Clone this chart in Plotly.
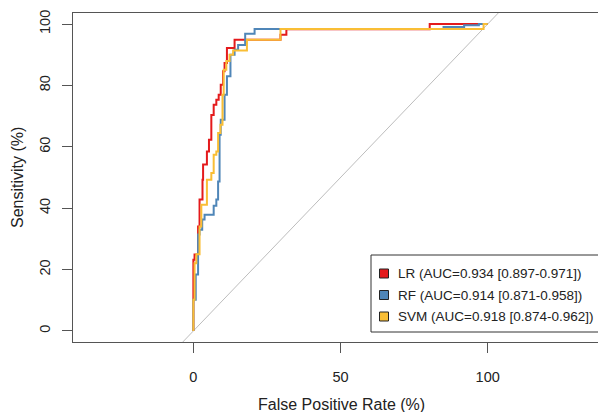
import plotly.graph_objects as go

# ROC curves (False Positive Rate %, Sensitivity %), step vertices
lr_fpr = [0, 0.4, 1.6, 2.1, 3.1, 3.3, 4.6, 5.3, 6.1, 6.9, 7.8, 8.6, 9.3, 10.1, 10.6, 11.4, 14.0, 29.6, 31.6, 80.3, 100]
lr_sens = [0, 23.2, 24.9, 34.0, 42.8, 49.3, 54.2, 58.5, 62.3, 70.4, 73.7, 75.3, 77.0, 80.2, 84.6, 87.3, 92.2, 94.9, 96.5, 98.3, 100]

rf_fpr = [0, 0.8, 1.6, 2.1, 3.0, 3.8, 6.9, 7.8, 8.4, 8.9, 9.3, 10.6, 11.4, 12.6, 14.0, 15.2, 17.6, 20.8, 85.0, 92.0, 97.0, 100]
rf_sens = [0, 10.2, 18.4, 31.4, 33.0, 36.3, 37.9, 40.8, 42.8, 48.7, 63.9, 68.8, 77.0, 83.0, 90.0, 91.6, 93.2, 96.8, 98.4, 99.0, 99.6, 100]

svm_fpr = [0, 0.4, 1.0, 2.1, 2.7, 4.6, 6.1, 6.9, 7.8, 8.4, 9.2, 9.9, 10.3, 11.2, 12.3, 13.5, 18.2, 29.6, 98.6, 100]
svm_sens = [0, 10.2, 22.1, 25.0, 34.0, 41.1, 49.3, 51.5, 57.4, 58.5, 64.5, 67.2, 77.0, 85.1, 88.0, 90.0, 91.4, 94.9, 98.4, 100]

model_names = ["LR", "RF", "SVM"]
auc_labels = ["LR (AUC=0.934 [0.897-0.971])",
              "RF (AUC=0.914 [0.871-0.958])",
              "SVM (AUC=0.918 [0.874-0.962])"]
colors = ["#E41A1C", "#4F86B8", "#F9BE35"]

chance_x = [-50, 150]
chance_y = [-50, 150]

x_ticks = [0, 50, 100]
y_ticks = [0, 20, 40, 60, 80, 100]

FONT = "Liberation Sans, Arial, sans-serif"

# the page body has an 8px default margin; figure is sized to fill the rest of the window
OFF = 8
L, T = 73.0, 13.0          # plot-area left / top in window pixels
W, H = 533.0, 329.0        # plot-area size in pixels
def px(x):
    return (x - L) / W
def py(y):
    return (T + H - y) / H

fig = go.Figure()
fig.add_trace(go.Scatter(x=chance_x, y=chance_y, mode="lines",
                         line=dict(color="#BDBDBD", width=1), showlegend=False, hoverinfo="skip"))

for fx, sy, col, name in zip([lr_fpr, rf_fpr, svm_fpr], [lr_sens, rf_sens, svm_sens], colors, model_names):
    fig.add_trace(go.Scatter(x=fx, y=sy, mode="lines", name=name,
                             line=dict(color=col, width=2, shape="vh"), showlegend=False))

# manual legend (box, colour squares, labels)
fig.add_shape(type="rect", xref="paper", yref="paper",
              x0=px(371), x1=px(603), y0=py(332), y1=py(255),
              line=dict(color="#333333", width=1), fillcolor="white", layer="above")
for i, (lab, col) in enumerate(zip(auc_labels, colors)):
    cy = 273.5 + i * 21.5
    fig.add_shape(type="rect", xref="paper", yref="paper",
                  x0=px(379.5), x1=px(388.5), y0=py(cy + 4.5), y1=py(cy - 4.5),
                  line=dict(color="#222222", width=1), fillcolor=col, layer="above")
    fig.add_annotation(xref="paper", yref="paper", x=px(396), y=py(cy),
                       text=lab, showarrow=False, xanchor="left", yanchor="middle",
                       font=dict(family=FONT, size=13.5, color="#222222"))

# axis titles
fig.add_annotation(xref="paper", yref="paper", x=px(341), y=py(404),
                   text="False Positive Rate (%)", showarrow=False,
                   xanchor="center", yanchor="middle",
                   font=dict(family=FONT, size=16, color="#222222"))
fig.add_annotation(xref="paper", yref="paper", x=px(17), y=py(177),
                   text="Sensitivity (%)", showarrow=False, textangle=-90,
                   xanchor="center", yanchor="middle",
                   font=dict(family=FONT, size=16, color="#222222"))

axis_common = dict(showgrid=False, zeroline=False, showline=True, linecolor="#555555", linewidth=1,
                   ticks="outside", ticklen=10, tickcolor="#555555", tickwidth=1, automargin=False,
                   tickfont=dict(family=FONT, size=14.5, color="#222222"))

fig.update_xaxes(range=[-40.9, 140.2], tickvals=x_ticks, ticktext=[str(v) for v in x_ticks],
                 mirror=True, ticklabelstandoff=12, **axis_common)
fig.update_yaxes(range=[-3.6, 103.6], tickvals=y_ticks, ticktext=[str(v) for v in y_ticks],
                 tickangle=-90, ticklabelstandoff=6, **axis_common)

fig.update_layout(width=606 - OFF, height=412 - OFF,
                  margin=dict(l=L - OFF, r=0, t=T - OFF, b=412 - OFF - (T - OFF) - H),
                  plot_bgcolor="white", paper_bgcolor="white", showlegend=False)

fig.write_html("out.html")
